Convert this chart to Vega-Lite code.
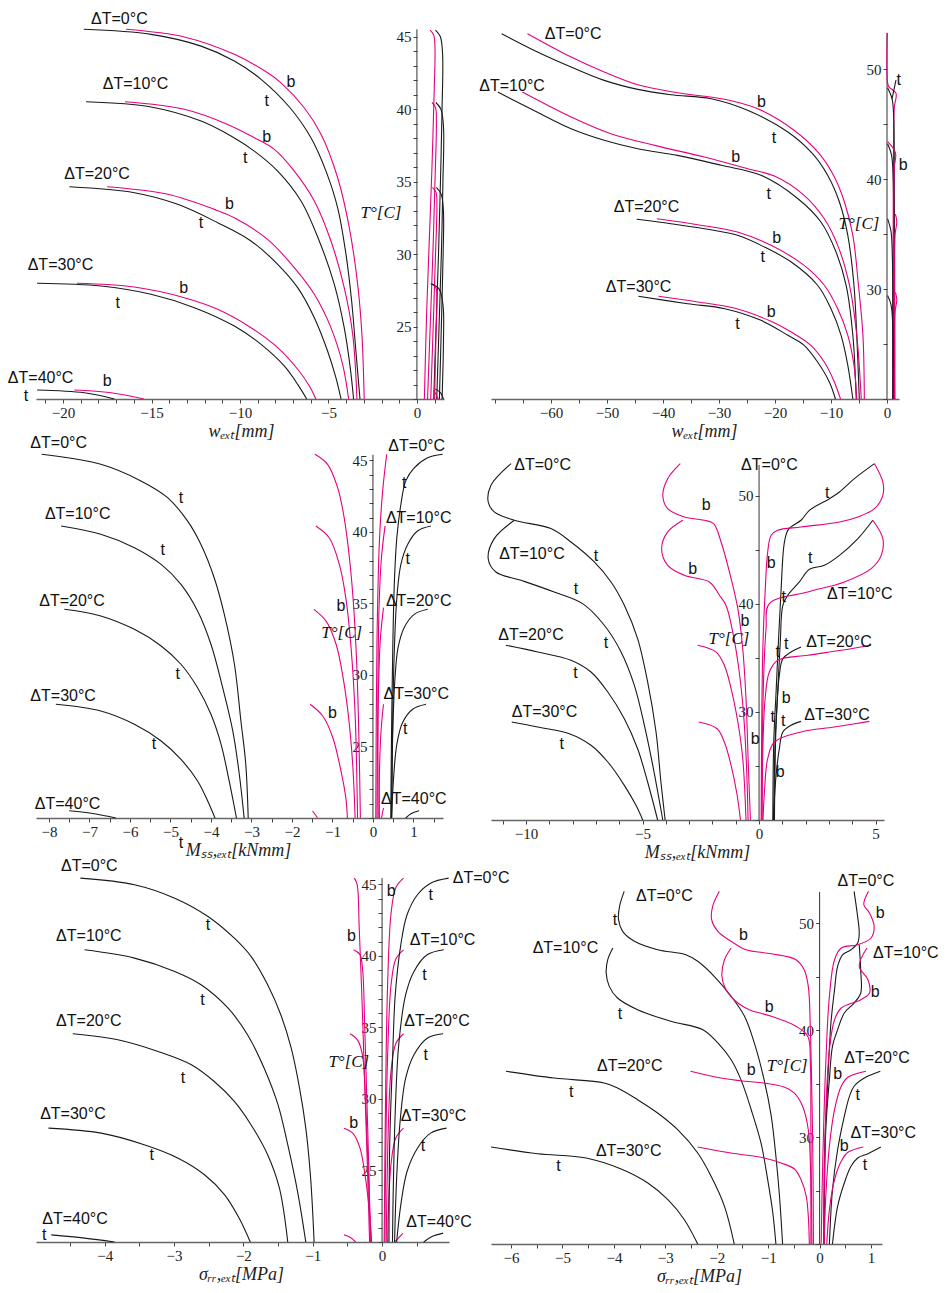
{
"$schema":"https://vega.github.io/schema/vega-lite/v6.json",
"background":"white",
"padding":{"left":7,"top":10,"right":5,"bottom":5},
"autosize":{"type":"pad"},
"columns":2,
"spacing":{"row":57,"column":42},
"bounds":"flush",
"config":{
 "view":{"stroke":null},
 "axis":{"grid":false,"labelFont":"Liberation Serif","labelFontSize":15,"labelColor":"#222","tickColor":"#444","domainColor":"#666","domainWidth":1.5,"tickSize":4,"labelOverlap":false,"labelFlush":false,"labelPadding":2,"format":"d","titleFont":"Liberation Serif","titleFontStyle":"italic","titleFontWeight":"normal","titleFontSize":18,"titleColor":"#222","titlePadding":2},
 "text":{"font":"Liberation Sans","fontSize":16,"color":"#111"}
},
"datasets":{
"p1":[
{"s":"0t","c":"t","x":-18.83,"y":45.5},{"s":"0t","c":"t","x":-15.03,"y":45.15},{"s":"0t","c":"t","x":-12.2,"y":44.34},{"s":"0t","c":"t","x":-10.32,"y":43.31},{"s":"0t","c":"t","x":-8.81,"y":42.05},{"s":"0t","c":"t","x":-7.21,"y":40.14},{"s":"0t","c":"t","x":-5.99,"y":38.02},{"s":"0t","c":"t","x":-5.14,"y":35.72},{"s":"0t","c":"t","x":-4.48,"y":33.19},{"s":"0t","c":"t","x":-4.01,"y":29.98},{"s":"0t","c":"t","x":-3.69,"y":26.76},{"s":"0t","c":"t","x":-3.45,"y":23.31},{"s":"0t","c":"t","x":-3.22,"y":20},
{"s":"0b","c":"b","x":-16.44,"y":45.5},{"s":"0b","c":"b","x":-13.15,"y":44.97},{"s":"0b","c":"b","x":-10.32,"y":43.77},{"s":"0b","c":"b","x":-8.44,"y":42.5},{"s":"0b","c":"b","x":-7.68,"y":41.81},{"s":"0b","c":"b","x":-6.37,"y":40.09},{"s":"0b","c":"b","x":-5.42,"y":38.26},{"s":"0b","c":"b","x":-4.48,"y":35.26},{"s":"0b","c":"b","x":-3.82,"y":31.81},{"s":"0b","c":"b","x":-3.35,"y":27.91},{"s":"0b","c":"b","x":-3.11,"y":24.46},{"s":"0b","c":"b","x":-2.98,"y":20},
{"s":"1t","c":"t","x":-18.7,"y":40.5},{"s":"1t","c":"t","x":-15.03,"y":40.14},{"s":"1t","c":"t","x":-12.2,"y":39.17},{"s":"1t","c":"t","x":-10.51,"y":38.14},{"s":"1t","c":"t","x":-9.19,"y":37.1},{"s":"1t","c":"t","x":-7.87,"y":35.72},{"s":"1t","c":"t","x":-6.55,"y":33.66},{"s":"1t","c":"t","x":-5.52,"y":30.9},{"s":"1t","c":"t","x":-4.67,"y":27.91},{"s":"1t","c":"t","x":-4.11,"y":24.92},{"s":"1t","c":"t","x":-3.77,"y":22.16},{"s":"1t","c":"t","x":-3.58,"y":20},
{"s":"1b","c":"b","x":-16.5,"y":40.5},{"s":"1b","c":"b","x":-13.15,"y":39.98},{"s":"1b","c":"b","x":-10.7,"y":38.94},{"s":"1b","c":"b","x":-9.19,"y":38.02},{"s":"1b","c":"b","x":-8.06,"y":37.22},{"s":"1b","c":"b","x":-6.93,"y":35.72},{"s":"1b","c":"b","x":-5.8,"y":33.66},{"s":"1b","c":"b","x":-4.86,"y":30.9},{"s":"1b","c":"b","x":-4.11,"y":27.68},{"s":"1b","c":"b","x":-3.63,"y":24.46},{"s":"1b","c":"b","x":-3.39,"y":20},
{"s":"2t","c":"t","x":-19.64,"y":34.64},{"s":"2t","c":"t","x":-15.97,"y":34.23},{"s":"2t","c":"t","x":-13.52,"y":33.43},{"s":"2t","c":"t","x":-11.26,"y":32.16},{"s":"2t","c":"t","x":-9.38,"y":30.9},{"s":"2t","c":"t","x":-7.87,"y":29.29},{"s":"2t","c":"t","x":-6.74,"y":27.68},{"s":"2t","c":"t","x":-5.8,"y":25.61},{"s":"2t","c":"t","x":-5.05,"y":23.31},{"s":"2t","c":"t","x":-4.58,"y":21.47},{"s":"2t","c":"t","x":-4.29,"y":20},
{"s":"2b","c":"b","x":-17.51,"y":34.64},{"s":"2b","c":"b","x":-14.08,"y":34.12},{"s":"2b","c":"b","x":-11.45,"y":33.08},{"s":"2b","c":"b","x":-10.32,"y":32.5},{"s":"2b","c":"b","x":-8.44,"y":31.01},{"s":"2b","c":"b","x":-6.93,"y":29.06},{"s":"2b","c":"b","x":-5.8,"y":27.22},{"s":"2b","c":"b","x":-4.86,"y":24.92},{"s":"2b","c":"b","x":-4.2,"y":22.39},{"s":"2b","c":"b","x":-3.86,"y":20},
{"s":"3t","c":"t","x":-21.47,"y":27.98},{"s":"3t","c":"t","x":-17.85,"y":27.79},{"s":"3t","c":"t","x":-15.03,"y":27.22},{"s":"3t","c":"t","x":-12.58,"y":26.3},{"s":"3t","c":"t","x":-10.32,"y":25.03},{"s":"3t","c":"t","x":-8.81,"y":23.77},{"s":"3t","c":"t","x":-7.5,"y":22.28},{"s":"3t","c":"t","x":-6.74,"y":21.01},{"s":"3t","c":"t","x":-6.23,"y":20},
{"s":"3b","c":"b","x":-19.21,"y":27.98},{"s":"3b","c":"b","x":-15.97,"y":27.72},{"s":"3b","c":"b","x":-13.15,"y":26.99},{"s":"3b","c":"b","x":-11.26,"y":26.19},{"s":"3b","c":"b","x":-9.38,"y":24.92},{"s":"3b","c":"b","x":-7.87,"y":23.54},{"s":"3b","c":"b","x":-6.74,"y":22.05},{"s":"3b","c":"b","x":-6.08,"y":20.9},{"s":"3b","c":"b","x":-5.71,"y":20},
{"s":"4t","c":"t","x":-21.47,"y":20.62},{"s":"4t","c":"t","x":-18.8,"y":20.43},{"s":"4t","c":"t","x":-17.1,"y":20},
{"s":"4b","c":"b","x":-19.36,"y":20.62},{"s":"4b","c":"b","x":-17.29,"y":20.43},{"s":"4b","c":"b","x":-15.44,"y":20},
{"s":"0bR","c":"b","x":0.75,"y":45.45},{"s":"0bR","c":"b","x":0.95,"y":45.1},{"s":"0bR","c":"b","x":1.02,"y":44.2},{"s":"0bR","c":"b","x":0.97,"y":41},{"s":"0bR","c":"b","x":0.85,"y":36},{"s":"0bR","c":"b","x":0.7,"y":31},{"s":"0bR","c":"b","x":0.55,"y":26},{"s":"0bR","c":"b","x":0.42,"y":20},
{"s":"0tR","c":"t","x":1.05,"y":45.45},{"s":"0tR","c":"t","x":1.32,"y":45.0},{"s":"0tR","c":"t","x":1.45,"y":43.8},{"s":"0tR","c":"t","x":1.42,"y":40},{"s":"0tR","c":"t","x":1.33,"y":35},{"s":"0tR","c":"t","x":1.22,"y":30},{"s":"0tR","c":"t","x":1.08,"y":25},{"s":"0tR","c":"t","x":0.95,"y":20},
{"s":"1bR","c":"b","x":0.85,"y":40.45},{"s":"1bR","c":"b","x":1.05,"y":40.1},{"s":"1bR","c":"b","x":1.1,"y":39.2},{"s":"1bR","c":"b","x":1.02,"y":35},{"s":"1bR","c":"b","x":0.9,"y":30},{"s":"1bR","c":"b","x":0.75,"y":25},{"s":"1bR","c":"b","x":0.6,"y":20},
{"s":"1tR","c":"t","x":1.07,"y":40.45},{"s":"1tR","c":"t","x":1.35,"y":40.0},{"s":"1tR","c":"t","x":1.5,"y":38.8},{"s":"1tR","c":"t","x":1.47,"y":35},{"s":"1tR","c":"t","x":1.38,"y":30},{"s":"1tR","c":"t","x":1.25,"y":25},{"s":"1tR","c":"t","x":1.12,"y":20},
{"s":"2bR","c":"b","x":0.88,"y":34.6},{"s":"2bR","c":"b","x":1.08,"y":34.25},{"s":"2bR","c":"b","x":1.13,"y":33.3},{"s":"2bR","c":"b","x":1.05,"y":30},{"s":"2bR","c":"b","x":0.92,"y":25},{"s":"2bR","c":"b","x":0.78,"y":20},
{"s":"2tR","c":"t","x":1.1,"y":34.6},{"s":"2tR","c":"t","x":1.38,"y":34.1},{"s":"2tR","c":"t","x":1.5,"y":32.9},{"s":"2tR","c":"t","x":1.48,"y":30},{"s":"2tR","c":"t","x":1.38,"y":25},{"s":"2tR","c":"t","x":1.27,"y":20},
{"s":"3bR","c":"b","x":0.86,"y":27.95},{"s":"3bR","c":"b","x":1.08,"y":27.65},{"s":"3bR","c":"b","x":1.13,"y":26.9},{"s":"3bR","c":"b","x":1.07,"y":24},{"s":"3bR","c":"b","x":1.0,"y":20},
{"s":"3tR","c":"t","x":0.78,"y":27.95},{"s":"3tR","c":"t","x":1.25,"y":27.6},{"s":"3tR","c":"t","x":1.48,"y":26.4},{"s":"3tR","c":"t","x":1.5,"y":24},{"s":"3tR","c":"t","x":1.42,"y":20},
{"s":"4bR","c":"b","x":0.92,"y":20.6},{"s":"4bR","c":"b","x":1.1,"y":20.3},{"s":"4bR","c":"b","x":1.2,"y":20},
{"s":"4tR","c":"t","x":1.05,"y":20.7},{"s":"4tR","c":"t","x":1.35,"y":20.4},{"s":"4tR","c":"t","x":1.5,"y":20}
],
"p1d":[{"x":-18.42,"y":46.24,"t":"ΔT=0°C"},{"x":-17.76,"y":41.76,"t":"ΔT=10°C"},{"x":-19.93,"y":35.5,"t":"ΔT=20°C"},{"x":-22.0,"y":29.24,"t":"ΔT=30°C"},{"x":-23.12,"y":21.47,"t":"ΔT=40°C"}],
"p1k":[{"x":-7.12,"y":41.88,"t":"b"},{"x":-8.49,"y":40.55,"t":"t"},{"x":-8.49,"y":38.07,"t":"b"},{"x":-9.7,"y":36.64,"t":"t"},{"x":-10.6,"y":33.43,"t":"b"},{"x":-12.2,"y":32.16,"t":"t"},{"x":-13.18,"y":27.63,"t":"b"},{"x":-16.91,"y":26.64,"t":"t"},{"x":-17.51,"y":21.24,"t":"b"},{"x":-22.09,"y":20.21,"t":"t"},{"x":-2.03,"y":32.83,"t":"T°[C]","f":"i"}],
"p2":[
{"s":"0t","c":"t","x":-68.8,"y":53.21},{"s":"0t","c":"t","x":-62.4,"y":51.55},{"s":"0t","c":"t","x":-56.4,"y":50.18},{"s":"0t","c":"t","x":-50.5,"y":48.97},{"s":"0t","c":"t","x":-44.5,"y":48.15},{"s":"0t","c":"t","x":-38.6,"y":47.66},{"s":"0t","c":"t","x":-31.4,"y":47.3},{"s":"0t","c":"t","x":-24.9,"y":46.25},{"s":"0t","c":"t","x":-17.7,"y":44.27},{"s":"0t","c":"t","x":-13.3,"y":42.3},{"s":"0t","c":"t","x":-10.6,"y":40.34},{"s":"0t","c":"t","x":-8.5,"y":37.91},{"s":"0t","c":"t","x":-7.0,"y":34.88},{"s":"0t","c":"t","x":-5.9,"y":30.34},{"s":"0t","c":"t","x":-5.4,"y":25.79},{"s":"0t","c":"t","x":-4.95,"y":20},
{"s":"0b","c":"b","x":-64.2,"y":53.21},{"s":"0b","c":"b","x":-56.4,"y":51.09},{"s":"0b","c":"b","x":-50.5,"y":49.73},{"s":"0b","c":"b","x":-44.5,"y":48.57},{"s":"0b","c":"b","x":-37.4,"y":47.85},{"s":"0b","c":"b","x":-29.0,"y":47.25},{"s":"0b","c":"b","x":-23.1,"y":46.39},{"s":"0b","c":"b","x":-16.6,"y":44.43},{"s":"0b","c":"b","x":-12.1,"y":42.3},{"s":"0b","c":"b","x":-9.4,"y":40.18},{"s":"0b","c":"b","x":-7.6,"y":37.91},{"s":"0b","c":"b","x":-6.1,"y":34.88},{"s":"0b","c":"b","x":-5.1,"y":30.34},{"s":"0b","c":"b","x":-4.3,"y":25.79},{"s":"0b","c":"b","x":-4.05,"y":20},
{"s":"1t","c":"t","x":-69.5,"y":47.91},{"s":"1t","c":"t","x":-62.5,"y":46.09},{"s":"1t","c":"t","x":-56.4,"y":44.57},{"s":"1t","c":"t","x":-50.5,"y":43.52},{"s":"1t","c":"t","x":-44.5,"y":42.75},{"s":"1t","c":"t","x":-37.4,"y":42.15},{"s":"1t","c":"t","x":-29.6,"y":41.25},{"s":"1t","c":"t","x":-22.5,"y":40.34},{"s":"1t","c":"t","x":-15.9,"y":38.21},{"s":"1t","c":"t","x":-11.8,"y":36.09},{"s":"1t","c":"t","x":-9.1,"y":33.36},{"s":"1t","c":"t","x":-7.3,"y":30.34},{"s":"1t","c":"t","x":-6.1,"y":25.79},{"s":"1t","c":"t","x":-5.5,"y":20},
{"s":"1b","c":"b","x":-65.1,"y":47.91},{"s":"1b","c":"b","x":-56.4,"y":45.64},{"s":"1b","c":"b","x":-49.3,"y":44.12},{"s":"1b","c":"b","x":-41.5,"y":43.06},{"s":"1b","c":"b","x":-32.6,"y":42.0},{"s":"1b","c":"b","x":-24.9,"y":40.94},{"s":"1b","c":"b","x":-20.1,"y":40.27},{"s":"1b","c":"b","x":-14.8,"y":38.52},{"s":"1b","c":"b","x":-11.2,"y":36.39},{"s":"1b","c":"b","x":-8.8,"y":33.97},{"s":"1b","c":"b","x":-6.7,"y":30.34},{"s":"1b","c":"b","x":-5.4,"y":25.79},{"s":"1b","c":"b","x":-4.6,"y":20},
{"s":"2t","c":"t","x":-44.7,"y":36.34},{"s":"2t","c":"t","x":-38.6,"y":35.94},{"s":"2t","c":"t","x":-32.6,"y":35.48},{"s":"2t","c":"t","x":-26.7,"y":34.88},{"s":"2t","c":"t","x":-21.9,"y":33.82},{"s":"2t","c":"t","x":-17.1,"y":32.45},{"s":"2t","c":"t","x":-12.4,"y":30.34},{"s":"2t","c":"t","x":-10.0,"y":28.21},{"s":"2t","c":"t","x":-8.2,"y":25.79},{"s":"2t","c":"t","x":-7.0,"y":23.06},{"s":"2t","c":"t","x":-6.1,"y":20},
{"s":"2b","c":"b","x":-41.1,"y":36.39},{"s":"2b","c":"b","x":-33.8,"y":35.85},{"s":"2b","c":"b","x":-26.7,"y":35.18},{"s":"2b","c":"b","x":-20.7,"y":33.97},{"s":"2b","c":"b","x":-14.8,"y":32.15},{"s":"2b","c":"b","x":-11.2,"y":30.34},{"s":"2b","c":"b","x":-8.8,"y":28.21},{"s":"2b","c":"b","x":-7.0,"y":25.79},{"s":"2b","c":"b","x":-5.9,"y":23.06},{"s":"2b","c":"b","x":-5.4,"y":20},
{"s":"3t","c":"t","x":-44.4,"y":29.34},{"s":"3t","c":"t","x":-35.6,"y":28.66},{"s":"3t","c":"t","x":-29.0,"y":28.21},{"s":"3t","c":"t","x":-22.5,"y":27.15},{"s":"3t","c":"t","x":-17.7,"y":25.79},{"s":"3t","c":"t","x":-14.8,"y":24.88},{"s":"3t","c":"t","x":-12.4,"y":23.36},{"s":"3t","c":"t","x":-10.3,"y":21.55},{"s":"3t","c":"t","x":-9.2,"y":20},
{"s":"3b","c":"b","x":-40.8,"y":29.34},{"s":"3b","c":"b","x":-33.8,"y":28.82},{"s":"3b","c":"b","x":-27.3,"y":28.27},{"s":"3b","c":"b","x":-20.7,"y":27.06},{"s":"3b","c":"b","x":-17.1,"y":26.09},{"s":"3b","c":"b","x":-13.6,"y":24.88},{"s":"3b","c":"b","x":-11.2,"y":23.36},{"s":"3b","c":"b","x":-9.4,"y":21.55},{"s":"3b","c":"b","x":-8.3,"y":20},
{"s":"0bR","c":"b","x":0.05,"y":53.3},{"s":"0bR","c":"b","x":0.05,"y":49.0},{"s":"0bR","c":"b","x":0.3,"y":48.4},{"s":"0bR","c":"b","x":1.6,"y":47.8},{"s":"0bR","c":"b","x":1.3,"y":46.5},{"s":"0bR","c":"b","x":1.15,"y":42},{"s":"0bR","c":"b","x":1.1,"y":35},{"s":"0bR","c":"b","x":1.05,"y":28},{"s":"0bR","c":"b","x":1.0,"y":20},
{"s":"0tR","c":"t","x":0.1,"y":48.3},{"s":"0tR","c":"t","x":0.9,"y":47.3},{"s":"0tR","c":"t","x":1.2,"y":45.5},{"s":"0tR","c":"t","x":1.3,"y":40},{"s":"0tR","c":"t","x":1.35,"y":30},{"s":"0tR","c":"t","x":1.4,"y":20},
{"s":"0tL","c":"t","x":0.9,"y":47.3},{"s":"0tL","c":"t","x":1.6,"y":49.0},
{"s":"1tR","c":"t","x":0.1,"y":43.2},{"s":"1tR","c":"t","x":0.8,"y":42.2},{"s":"1tR","c":"t","x":1.1,"y":40.0},{"s":"1tR","c":"t","x":1.2,"y":33},{"s":"1tR","c":"t","x":1.25,"y":20},
{"s":"1bR","c":"b","x":0.1,"y":43.4},{"s":"1bR","c":"b","x":1.5,"y":42.4},{"s":"1bR","c":"b","x":1.3,"y":41},{"s":"1bR","c":"b","x":1.2,"y":37},{"s":"1bR","c":"b","x":1.15,"y":30},{"s":"1bR","c":"b","x":1.1,"y":20},
{"s":"2tR","c":"t","x":0.1,"y":36.4},{"s":"2tR","c":"t","x":0.7,"y":35.3},{"s":"2tR","c":"t","x":0.95,"y":33},{"s":"2tR","c":"t","x":1.05,"y":26},{"s":"2tR","c":"t","x":1.1,"y":20},
{"s":"2bR","c":"b","x":1.5,"y":36.8},{"s":"2bR","c":"b","x":1.75,"y":36.1},{"s":"2bR","c":"b","x":1.45,"y":35.0},{"s":"2bR","c":"b","x":1.35,"y":30},{"s":"2bR","c":"b","x":1.3,"y":20},
{"s":"3tR","c":"t","x":0.1,"y":29.4},{"s":"3tR","c":"t","x":0.7,"y":28.6},{"s":"3tR","c":"t","x":1.0,"y":27.0},{"s":"3tR","c":"t","x":1.05,"y":20},
{"s":"3bR","c":"b","x":1.5,"y":29.7},{"s":"3bR","c":"b","x":1.75,"y":29.0},{"s":"3bR","c":"b","x":1.45,"y":28.0},{"s":"3bR","c":"b","x":1.35,"y":24},{"s":"3bR","c":"b","x":1.3,"y":20}
],
"p2d":[{"x":-61.1,"y":53.2,"t":"ΔT=0°C"},{"x":-72.8,"y":48.5,"t":"ΔT=10°C"},{"x":-48.8,"y":37.45,"t":"ΔT=20°C"},{"x":-50.2,"y":30.2,"t":"ΔT=30°C"}],
"p2k":[{"x":-22.4,"y":47.0,"t":"b"},{"x":-20.2,"y":43.7,"t":"t"},{"x":-27.0,"y":42.0,"t":"b"},{"x":-21.1,"y":38.66,"t":"t"},{"x":-19.7,"y":34.6,"t":"b"},{"x":-22.2,"y":32.9,"t":"t"},{"x":-20.7,"y":27.9,"t":"b"},{"x":-26.7,"y":26.85,"t":"t"},{"x":2.1,"y":48.97,"t":"t"},{"x":2.9,"y":41.3,"t":"b"},{"x":-5.0,"y":35.9,"t":"T°[C]","f":"i"}],
"p3":[
{"s":"0t","c":"t","x":-8.18,"y":45.43},{"s":"0t","c":"t","x":-6.72,"y":44.73},{"s":"0t","c":"t","x":-5.73,"y":43.57},{"s":"0t","c":"t","x":-5.07,"y":42.4},{"s":"0t","c":"t","x":-4.58,"y":40.77},{"s":"0t","c":"t","x":-4.25,"y":39.14},{"s":"0t","c":"t","x":-3.92,"y":36.8},{"s":"0t","c":"t","x":-3.67,"y":34.24},{"s":"0t","c":"t","x":-3.42,"y":30.75},{"s":"0t","c":"t","x":-3.26,"y":26.78},{"s":"0t","c":"t","x":-3.14,"y":23.76},{"s":"0t","c":"t","x":-3.08,"y":20},
{"s":"1t","c":"t","x":-7.7,"y":40.42},{"s":"1t","c":"t","x":-6.72,"y":39.84},{"s":"1t","c":"t","x":-5.89,"y":38.9},{"s":"1t","c":"t","x":-5.23,"y":37.73},{"s":"1t","c":"t","x":-4.74,"y":36.34},{"s":"1t","c":"t","x":-4.33,"y":34.48},{"s":"1t","c":"t","x":-4.0,"y":32.15},{"s":"1t","c":"t","x":-3.71,"y":29.11},{"s":"1t","c":"t","x":-3.46,"y":26.08},{"s":"1t","c":"t","x":-3.3,"y":23.06},{"s":"1t","c":"t","x":-3.18,"y":20},
{"s":"2t","c":"t","x":-7.62,"y":34.59},{"s":"2t","c":"t","x":-6.72,"y":34.13},{"s":"2t","c":"t","x":-5.89,"y":33.19},{"s":"2t","c":"t","x":-5.23,"y":32.03},{"s":"2t","c":"t","x":-4.74,"y":30.75},{"s":"2t","c":"t","x":-4.33,"y":29.11},{"s":"2t","c":"t","x":-4.0,"y":27.25},{"s":"2t","c":"t","x":-3.75,"y":25.15},{"s":"2t","c":"t","x":-3.55,"y":22.59},{"s":"2t","c":"t","x":-3.37,"y":20},
{"s":"3t","c":"t","x":-7.83,"y":27.95},{"s":"3t","c":"t","x":-6.72,"y":27.48},{"s":"3t","c":"t","x":-5.89,"y":26.55},{"s":"3t","c":"t","x":-5.23,"y":25.38},{"s":"3t","c":"t","x":-4.74,"y":24.1},{"s":"3t","c":"t","x":-4.33,"y":22.59},{"s":"3t","c":"t","x":-4.08,"y":21.19},{"s":"3t","c":"t","x":-3.9,"y":20},
{"s":"4t","c":"t","x":-7.5,"y":20.51},{"s":"4t","c":"t","x":-6.88,"y":20.3},{"s":"4t","c":"t","x":-6.35,"y":20},
{"s":"0b","c":"b","x":-1.43,"y":45.43},{"s":"0b","c":"b","x":-1.12,"y":44.73},{"s":"0b","c":"b","x":-0.87,"y":43.08},{"s":"0b","c":"b","x":-0.71,"y":40.99},{"s":"0b","c":"b","x":-0.58,"y":38.18},{"s":"0b","c":"b","x":-0.48,"y":34.94},{"s":"0b","c":"b","x":-0.4,"y":30.75},{"s":"0b","c":"b","x":-0.35,"y":26.08},{"s":"0b","c":"b","x":-0.31,"y":20},
{"s":"1b","c":"b","x":-1.41,"y":40.42},{"s":"1b","c":"b","x":-1.08,"y":39.59},{"s":"1b","c":"b","x":-0.83,"y":37.73},{"s":"1b","c":"b","x":-0.67,"y":35.39},{"s":"1b","c":"b","x":-0.54,"y":31.9},{"s":"1b","c":"b","x":-0.44,"y":27.25},{"s":"1b","c":"b","x":-0.38,"y":20},
{"s":"2b","c":"b","x":-1.46,"y":34.59},{"s":"2b","c":"b","x":-1.16,"y":33.78},{"s":"2b","c":"b","x":-0.91,"y":32.15},{"s":"2b","c":"b","x":-0.75,"y":30.03},{"s":"2b","c":"b","x":-0.61,"y":27.25},{"s":"2b","c":"b","x":-0.5,"y":23.76},{"s":"2b","c":"b","x":-0.44,"y":20},
{"s":"3b","c":"b","x":-1.55,"y":27.95},{"s":"3b","c":"b","x":-1.24,"y":27.13},{"s":"3b","c":"b","x":-0.99,"y":25.61},{"s":"3b","c":"b","x":-0.79,"y":23.29},{"s":"3b","c":"b","x":-0.67,"y":21.42},{"s":"3b","c":"b","x":-0.63,"y":20},
{"s":"4b","c":"b","x":-1.49,"y":20.49},{"s":"4b","c":"b","x":-1.37,"y":20.02},
{"s":"0bR","c":"b","x":0.34,"y":45.43},{"s":"0bR","c":"b","x":0.24,"y":42.87},{"s":"0bR","c":"b","x":0.16,"y":39.37},{"s":"0bR","c":"b","x":0.1,"y":32.38},{"s":"0bR","c":"b","x":0.07,"y":20},
{"s":"1bR","c":"b","x":0.3,"y":40.42},{"s":"1bR","c":"b","x":0.21,"y":38.2},{"s":"1bR","c":"b","x":0.15,"y":34.7},{"s":"1bR","c":"b","x":0.12,"y":27.7},{"s":"1bR","c":"b","x":0.1,"y":20},
{"s":"2bR","c":"b","x":0.26,"y":34.71},{"s":"2bR","c":"b","x":0.18,"y":32.38},{"s":"2bR","c":"b","x":0.13,"y":27.7},{"s":"2bR","c":"b","x":0.13,"y":20},
{"s":"3bR","c":"b","x":0.26,"y":27.95},{"s":"3bR","c":"b","x":0.2,"y":26.08},{"s":"3bR","c":"b","x":0.16,"y":23.06},{"s":"3bR","c":"b","x":0.16,"y":20},
{"s":"4bR","c":"b","x":0.26,"y":20.7},{"s":"4bR","c":"b","x":0.21,"y":20},
{"s":"0tR","c":"t","x":1.72,"y":45.43},{"s":"0tR","c":"t","x":1.35,"y":45.18},{"s":"0tR","c":"t","x":1.02,"y":44.48},{"s":"0tR","c":"t","x":0.81,"y":43.57},{"s":"0tR","c":"t","x":0.69,"y":41.92},{"s":"0tR","c":"t","x":0.59,"y":39.6},{"s":"0tR","c":"t","x":0.53,"y":36.57},{"s":"0tR","c":"t","x":0.49,"y":31.91},{"s":"0tR","c":"t","x":0.46,"y":26.08},{"s":"0tR","c":"t","x":0.44,"y":20},
{"s":"1tR","c":"t","x":1.43,"y":40.42},{"s":"1tR","c":"t","x":1.1,"y":40.07},{"s":"1tR","c":"t","x":0.86,"y":39.14},{"s":"1tR","c":"t","x":0.69,"y":37.73},{"s":"1tR","c":"t","x":0.59,"y":35.39},{"s":"1tR","c":"t","x":0.53,"y":31.91},{"s":"1tR","c":"t","x":0.49,"y":27.25},{"s":"1tR","c":"t","x":0.46,"y":20},
{"s":"2tR","c":"t","x":1.35,"y":34.59},{"s":"2tR","c":"t","x":1.02,"y":34.24},{"s":"2tR","c":"t","x":0.77,"y":33.31},{"s":"2tR","c":"t","x":0.62,"y":31.91},{"s":"2tR","c":"t","x":0.54,"y":29.58},{"s":"2tR","c":"t","x":0.49,"y":26.08},{"s":"2tR","c":"t","x":0.46,"y":20},
{"s":"3tR","c":"t","x":1.31,"y":27.95},{"s":"3tR","c":"t","x":0.98,"y":27.6},{"s":"3tR","c":"t","x":0.73,"y":26.66},{"s":"3tR","c":"t","x":0.59,"y":25.15},{"s":"3tR","c":"t","x":0.51,"y":22.81},{"s":"3tR","c":"t","x":0.46,"y":20},
{"s":"4tR","c":"t","x":1.14,"y":20.51},{"s":"4tR","c":"t","x":0.94,"y":20.3},{"s":"4tR","c":"t","x":0.81,"y":20}
],
"p3d":[{"x":-8.46,"y":46.19,"t":"ΔT=0°C"},{"x":-8.1,"y":41.26,"t":"ΔT=10°C"},{"x":-8.24,"y":35.17,"t":"ΔT=20°C"},{"x":-8.46,"y":28.53,"t":"ΔT=30°C"},{"x":-8.35,"y":20.98,"t":"ΔT=40°C"},{"x":0.38,"y":46.01,"t":"ΔT=0°C"},{"x":0.32,"y":40.98,"t":"ΔT=10°C"},{"x":0.32,"y":35.17,"t":"ΔT=20°C"},{"x":0.26,"y":28.67,"t":"ΔT=30°C"},{"x":0.2,"y":21.33,"t":"ΔT=40°C"}],
"p3k":[{"x":-4.74,"y":42.4,"t":"t"},{"x":-5.19,"y":38.72,"t":"t"},{"x":-4.82,"y":30.05,"t":"t"},{"x":-5.41,"y":25.15,"t":"t"},{"x":-4.74,"y":18.27,"t":"t"},{"x":0.77,"y":43.45,"t":"t"},{"x":0.86,"y":38.09,"t":"t"},{"x":0.8,"y":26.2,"t":"t"},{"x":-0.79,"y":34.83,"t":"b"},{"x":-1.0,"y":27.37,"t":"b"},{"x":-0.77,"y":32.94,"t":"T°[C]","f":"i"}],
"p4":[
{"s":"0t","c":"t","x":-10.64,"y":52.99},{"s":"0t","c":"t","x":-11.5,"y":50.99},{"s":"0t","c":"t","x":-11.62,"y":49.44},{"s":"0t","c":"t","x":-11.36,"y":48.52},{"s":"0t","c":"t","x":-10.5,"y":47.75},{"s":"0t","c":"t","x":-8.93,"y":46.98},{"s":"0t","c":"t","x":-8.07,"y":45.74},{"s":"0t","c":"t","x":-7.07,"y":43.89},{"s":"0t","c":"t","x":-6.35,"y":42.04},{"s":"0t","c":"t","x":-5.78,"y":39.88},{"s":"0t","c":"t","x":-5.21,"y":36.79},{"s":"0t","c":"t","x":-4.78,"y":32.78},{"s":"0t","c":"t","x":-4.42,"y":28.15},{"s":"0t","c":"t","x":-4.21,"y":23.52},{"s":"0t","c":"t","x":-4.03,"y":20},
{"s":"1t","c":"t","x":-10.5,"y":47.75},{"s":"1t","c":"t","x":-11.36,"y":46.05},{"s":"1t","c":"t","x":-11.62,"y":44.19},{"s":"1t","c":"t","x":-11.29,"y":42.96},{"s":"1t","c":"t","x":-10.21,"y":42.19},{"s":"1t","c":"t","x":-8.79,"y":41.11},{"s":"1t","c":"t","x":-7.57,"y":40.03},{"s":"1t","c":"t","x":-6.64,"y":38.03},{"s":"1t","c":"t","x":-5.92,"y":35.56},{"s":"1t","c":"t","x":-5.35,"y":32.47},{"s":"1t","c":"t","x":-4.92,"y":28.77},{"s":"1t","c":"t","x":-4.56,"y":25.06},{"s":"1t","c":"t","x":-4.13,"y":20},
{"s":"2t","c":"t","x":-10.86,"y":36.18},{"s":"2t","c":"t","x":-9.5,"y":35.56},{"s":"2t","c":"t","x":-8.07,"y":34.79},{"s":"2t","c":"t","x":-7.21,"y":33.7},{"s":"2t","c":"t","x":-6.49,"y":31.85},{"s":"2t","c":"t","x":-5.78,"y":29.38},{"s":"2t","c":"t","x":-5.21,"y":26.6},{"s":"2t","c":"t","x":-4.78,"y":23.52},{"s":"2t","c":"t","x":-4.35,"y":20},
{"s":"3t","c":"t","x":-10.61,"y":29.07},{"s":"3t","c":"t","x":-9.5,"y":28.61},{"s":"3t","c":"t","x":-8.14,"y":27.99},{"s":"3t","c":"t","x":-7.21,"y":26.92},{"s":"3t","c":"t","x":-6.49,"y":25.37},{"s":"3t","c":"t","x":-5.78,"y":23.21},{"s":"3t","c":"t","x":-5.28,"y":21.36},{"s":"3t","c":"t","x":-4.99,"y":20},
{"s":"0b","c":"b","x":-3.38,"y":52.99},{"s":"0b","c":"b","x":-3.92,"y":51.6},{"s":"0b","c":"b","x":-4.13,"y":50.06},{"s":"0b","c":"b","x":-3.92,"y":48.82},{"s":"0b","c":"b","x":-3.21,"y":48.06},{"s":"0b","c":"b","x":-2.35,"y":47.75},{"s":"0b","c":"b","x":-1.95,"y":47.44},{"s":"0b","c":"b","x":-1.63,"y":45.74},{"s":"0b","c":"b","x":-1.27,"y":42.96},{"s":"0b","c":"b","x":-0.91,"y":39.57},{"s":"0b","c":"b","x":-0.7,"y":35.86},{"s":"0b","c":"b","x":-0.56,"y":31.23},{"s":"0b","c":"b","x":-0.46,"y":25.06},{"s":"0b","c":"b","x":-0.37,"y":20},
{"s":"1b","c":"b","x":-3.27,"y":47.75},{"s":"1b","c":"b","x":-3.92,"y":46.67},{"s":"1b","c":"b","x":-4.18,"y":45.12},{"s":"1b","c":"b","x":-3.92,"y":43.58},{"s":"1b","c":"b","x":-3.21,"y":42.66},{"s":"1b","c":"b","x":-2.13,"y":42.04},{"s":"1b","c":"b","x":-1.7,"y":40.81},{"s":"1b","c":"b","x":-1.42,"y":39.88},{"s":"1b","c":"b","x":-1.13,"y":37.41},{"s":"1b","c":"b","x":-0.85,"y":33.7},{"s":"1b","c":"b","x":-0.66,"y":29.69},{"s":"1b","c":"b","x":-0.54,"y":25.06},{"s":"1b","c":"b","x":-0.47,"y":20},
{"s":"2b","c":"b","x":-2.63,"y":36.18},{"s":"2b","c":"b","x":-1.85,"y":35.56},{"s":"2b","c":"b","x":-1.49,"y":34.32},{"s":"2b","c":"b","x":-1.2,"y":32.16},{"s":"2b","c":"b","x":-0.91,"y":29.07},{"s":"2b","c":"b","x":-0.7,"y":25.68},{"s":"2b","c":"b","x":-0.56,"y":20},
{"s":"3b","c":"b","x":-2.59,"y":29.07},{"s":"3b","c":"b","x":-1.8,"y":28.45},{"s":"3b","c":"b","x":-1.49,"y":27.22},{"s":"3b","c":"b","x":-1.2,"y":25.06},{"s":"3b","c":"b","x":-0.94,"y":22.29},{"s":"3b","c":"b","x":-0.8,"y":20},
{"s":"0tR","c":"t","x":4.95,"y":52.99},{"s":"0tR","c":"t","x":4.09,"y":51.6},{"s":"0tR","c":"t","x":3.45,"y":50.37},{"s":"0tR","c":"t","x":3.02,"y":49.75},{"s":"0tR","c":"t","x":2.16,"y":48.67},{"s":"0tR","c":"t","x":1.8,"y":47.75},{"s":"0tR","c":"t","x":1.26,"y":46.91},{"s":"0tR","c":"t","x":1.09,"y":45.74},{"s":"0tR","c":"t","x":0.94,"y":41.11},{"s":"0tR","c":"t","x":0.83,"y":36.48},{"s":"0tR","c":"t","x":0.73,"y":31.85},{"s":"0tR","c":"t","x":0.63,"y":27.22},{"s":"0tR","c":"t","x":0.59,"y":20},
{"s":"0bR","c":"b","x":4.95,"y":52.99},{"s":"0bR","c":"b","x":5.31,"y":51.3},{"s":"0bR","c":"b","x":5.31,"y":50.06},{"s":"0bR","c":"b","x":4.95,"y":48.82},{"s":"0bR","c":"b","x":4.24,"y":48.06},{"s":"0bR","c":"b","x":3.45,"y":47.59},{"s":"0bR","c":"b","x":1.8,"y":47.13},{"s":"0bR","c":"b","x":0.8,"y":46.82},{"s":"0bR","c":"b","x":0.52,"y":46.36},{"s":"0bR","c":"b","x":0.37,"y":44.81},{"s":"0bR","c":"b","x":0.26,"y":41.11},{"s":"0bR","c":"b","x":0.17,"y":36.48},{"s":"0bR","c":"b","x":0.12,"y":30.31},{"s":"0bR","c":"b","x":0.09,"y":20},
{"s":"1tR","c":"t","x":4.88,"y":47.75},{"s":"1tR","c":"t","x":4.24,"y":46.05},{"s":"1tR","c":"t","x":3.45,"y":44.5},{"s":"1tR","c":"t","x":2.8,"y":43.58},{"s":"1tR","c":"t","x":2.16,"y":43.21},{"s":"1tR","c":"t","x":1.73,"y":42.04},{"s":"1tR","c":"t","x":1.23,"y":40.8},{"s":"1tR","c":"t","x":1.02,"y":39.88},{"s":"1tR","c":"t","x":0.91,"y":36.48},{"s":"1tR","c":"t","x":0.8,"y":31.85},{"s":"1tR","c":"t","x":0.69,"y":27.22},{"s":"1tR","c":"t","x":0.63,"y":20},
{"s":"1bR","c":"b","x":4.88,"y":47.75},{"s":"1bR","c":"b","x":5.31,"y":46.05},{"s":"1bR","c":"b","x":5.24,"y":44.5},{"s":"1bR","c":"b","x":4.81,"y":43.27},{"s":"1bR","c":"b","x":3.66,"y":42.04},{"s":"1bR","c":"b","x":2.09,"y":41.11},{"s":"1bR","c":"b","x":0.44,"y":40.03},{"s":"1bR","c":"b","x":0.3,"y":37.71},{"s":"1bR","c":"b","x":0.2,"y":33.4},{"s":"1bR","c":"b","x":0.14,"y":27.22},{"s":"1bR","c":"b","x":0.12,"y":20},
{"s":"2tR","c":"t","x":1.8,"y":36.02},{"s":"2tR","c":"t","x":1.37,"y":35.56},{"s":"2tR","c":"t","x":1.02,"y":34.94},{"s":"2tR","c":"t","x":0.87,"y":33.4},{"s":"2tR","c":"t","x":0.73,"y":28.77},{"s":"2tR","c":"t","x":0.66,"y":20},
{"s":"2bR","c":"b","x":4.81,"y":36.18},{"s":"2bR","c":"b","x":3.52,"y":35.71},{"s":"2bR","c":"b","x":2.09,"y":35.25},{"s":"2bR","c":"b","x":0.8,"y":34.79},{"s":"2bR","c":"b","x":0.44,"y":33.7},{"s":"2bR","c":"b","x":0.26,"y":31.23},{"s":"2bR","c":"b","x":0.17,"y":27.22},{"s":"2bR","c":"b","x":0.13,"y":20},
{"s":"3tR","c":"t","x":1.8,"y":29.13},{"s":"3tR","c":"t","x":1.37,"y":28.77},{"s":"3tR","c":"t","x":1.02,"y":28.15},{"s":"3tR","c":"t","x":0.87,"y":26.6},{"s":"3tR","c":"t","x":0.73,"y":24.14},{"s":"3tR","c":"t","x":0.61,"y":20},
{"s":"3bR","c":"b","x":4.73,"y":29.13},{"s":"3bR","c":"b","x":3.23,"y":28.61},{"s":"3bR","c":"b","x":1.8,"y":28.15},{"s":"3bR","c":"b","x":0.66,"y":27.22},{"s":"3bR","c":"b","x":0.37,"y":25.68},{"s":"3bR","c":"b","x":0.23,"y":22.59},{"s":"3bR","c":"b","x":0.17,"y":20}
],
"p4d":[{"x":-10.5,"y":52.87,"t":"ΔT=0°C"},{"x":-11.15,"y":44.63,"t":"ΔT=10°C"},{"x":-11.19,"y":37.13,"t":"ΔT=20°C"},{"x":-10.61,"y":30.0,"t":"ΔT=30°C"},{"x":-0.77,"y":52.87,"t":"ΔT=0°C"},{"x":2.92,"y":40.93,"t":"ΔT=10°C"},{"x":2.02,"y":36.48,"t":"ΔT=20°C"},{"x":1.94,"y":29.72,"t":"ΔT=30°C"}],
"p4k":[{"x":-7.0,"y":44.44,"t":"t"},{"x":-7.85,"y":41.42,"t":"t"},{"x":-6.57,"y":36.42,"t":"t"},{"x":-7.88,"y":33.64,"t":"t"},{"x":-8.47,"y":27.07,"t":"t"},{"x":2.92,"y":50.31,"t":"t"},{"x":2.2,"y":44.26,"t":"t"},{"x":1.06,"y":40.65,"t":"t"},{"x":1.16,"y":36.27,"t":"t"},{"x":0.8,"y":35.56,"t":"t"},{"x":0.59,"y":29.54,"t":"t"},{"x":1.04,"y":29.14,"t":"t"},{"x":-2.27,"y":49.2,"t":"b"},{"x":-2.85,"y":43.27,"t":"b"},{"x":-0.6,"y":38.4,"t":"b"},{"x":0.52,"y":43.8,"t":"b"},{"x":1.16,"y":31.33,"t":"b"},{"x":-0.17,"y":27.53,"t":"b"},{"x":0.91,"y":24.44,"t":"b"},{"x":-1.29,"y":36.76,"t":"T°[C]","f":"i"}],
"p5":[
{"s":"0t","c":"t","x":-4.35,"y":45.44},{"s":"0t","c":"t","x":-3.57,"y":44.98},{"s":"0t","c":"t","x":-2.99,"y":44.04},{"s":"0t","c":"t","x":-2.51,"y":42.76},{"s":"0t","c":"t","x":-2.13,"y":41.24},{"s":"0t","c":"t","x":-1.89,"y":39.97},{"s":"0t","c":"t","x":-1.65,"y":37.99},{"s":"0t","c":"t","x":-1.46,"y":35.89},{"s":"0t","c":"t","x":-1.31,"y":33.55},{"s":"0t","c":"t","x":-1.19,"y":30.76},{"s":"0t","c":"t","x":-1.1,"y":27.96},{"s":"0t","c":"t","x":-1.03,"y":24.46},{"s":"0t","c":"t","x":-0.98,"y":20},
{"s":"1t","c":"t","x":-4.29,"y":40.43},{"s":"1t","c":"t","x":-3.57,"y":39.85},{"s":"1t","c":"t","x":-2.99,"y":38.92},{"s":"1t","c":"t","x":-2.61,"y":37.99},{"s":"1t","c":"t","x":-2.22,"y":36.35},{"s":"1t","c":"t","x":-1.94,"y":34.49},{"s":"1t","c":"t","x":-1.7,"y":32.15},{"s":"1t","c":"t","x":-1.5,"y":29.59},{"s":"1t","c":"t","x":-1.36,"y":26.8},{"s":"1t","c":"t","x":-1.21,"y":23.3},{"s":"1t","c":"t","x":-1.1,"y":20},
{"s":"2t","c":"t","x":-4.46,"y":34.56},{"s":"2t","c":"t","x":-3.81,"y":34.14},{"s":"2t","c":"t","x":-3.23,"y":33.32},{"s":"2t","c":"t","x":-2.75,"y":32.39},{"s":"2t","c":"t","x":-2.42,"y":31.22},{"s":"2t","c":"t","x":-2.13,"y":29.83},{"s":"2t","c":"t","x":-1.89,"y":28.2},{"s":"2t","c":"t","x":-1.65,"y":26.1},{"s":"2t","c":"t","x":-1.48,"y":23.76},{"s":"2t","c":"t","x":-1.36,"y":20},
{"s":"3t","c":"t","x":-4.81,"y":27.96},{"s":"3t","c":"t","x":-4.05,"y":27.61},{"s":"3t","c":"t","x":-3.43,"y":26.8},{"s":"3t","c":"t","x":-2.94,"y":25.86},{"s":"3t","c":"t","x":-2.56,"y":24.7},{"s":"3t","c":"t","x":-2.27,"y":23.3},{"s":"3t","c":"t","x":-2.06,"y":21.66},{"s":"3t","c":"t","x":-1.9,"y":20},
{"s":"4t","c":"t","x":-4.77,"y":20.5},{"s":"4t","c":"t","x":-4.29,"y":20.27},{"s":"4t","c":"t","x":-3.86,"y":20},
{"s":"0b","c":"b","x":-0.4,"y":45.44},{"s":"0b","c":"b","x":-0.36,"y":45.0},{"s":"0b","c":"b","x":-0.33,"y":42},{"s":"0b","c":"b","x":-0.29,"y":37},{"s":"0b","c":"b","x":-0.25,"y":31},{"s":"0b","c":"b","x":-0.21,"y":25},{"s":"0b","c":"b","x":-0.18,"y":20},
{"s":"1b","c":"b","x":-0.41,"y":40.43},{"s":"1b","c":"b","x":-0.32,"y":40.1},{"s":"1b","c":"b","x":-0.28,"y":39.0},{"s":"1b","c":"b","x":-0.25,"y":35},{"s":"1b","c":"b","x":-0.22,"y":30},{"s":"1b","c":"b","x":-0.19,"y":25},{"s":"1b","c":"b","x":-0.17,"y":20},
{"s":"2b","c":"b","x":-0.46,"y":34.56},{"s":"2b","c":"b","x":-0.35,"y":34.1},{"s":"2b","c":"b","x":-0.28,"y":33.0},{"s":"2b","c":"b","x":-0.24,"y":30},{"s":"2b","c":"b","x":-0.2,"y":25},{"s":"2b","c":"b","x":-0.16,"y":20},
{"s":"3b","c":"b","x":-0.55,"y":27.96},{"s":"3b","c":"b","x":-0.42,"y":27.6},{"s":"3b","c":"b","x":-0.32,"y":26.6},{"s":"3b","c":"b","x":-0.24,"y":24.5},{"s":"3b","c":"b","x":-0.18,"y":22},{"s":"3b","c":"b","x":-0.15,"y":20},
{"s":"4b","c":"b","x":-0.55,"y":20.5},{"s":"4b","c":"b","x":-0.45,"y":20.3},{"s":"4b","c":"b","x":-0.38,"y":20},
{"s":"0bR","c":"b","x":0.31,"y":45.44},{"s":"0bR","c":"b","x":0.2,"y":44.8},{"s":"0bR","c":"b","x":0.13,"y":43},{"s":"0bR","c":"b","x":0.08,"y":38},{"s":"0bR","c":"b","x":0.05,"y":30},{"s":"0bR","c":"b","x":0.03,"y":20},
{"s":"1bR","c":"b","x":0.31,"y":40.43},{"s":"1bR","c":"b","x":0.2,"y":39.8},{"s":"1bR","c":"b","x":0.13,"y":38},{"s":"1bR","c":"b","x":0.08,"y":33},{"s":"1bR","c":"b","x":0.05,"y":25},{"s":"1bR","c":"b","x":0.04,"y":20},
{"s":"2bR","c":"b","x":0.31,"y":34.56},{"s":"2bR","c":"b","x":0.2,"y":33.9},{"s":"2bR","c":"b","x":0.13,"y":32},{"s":"2bR","c":"b","x":0.09,"y":28},{"s":"2bR","c":"b","x":0.06,"y":20},
{"s":"3bR","c":"b","x":0.31,"y":27.96},{"s":"3bR","c":"b","x":0.2,"y":27.3},{"s":"3bR","c":"b","x":0.13,"y":25.5},{"s":"3bR","c":"b","x":0.09,"y":22},{"s":"3bR","c":"b","x":0.08,"y":20},
{"s":"4bR","c":"b","x":0.3,"y":20.6},{"s":"4bR","c":"b","x":0.22,"y":20.2},{"s":"4bR","c":"b","x":0.18,"y":20},
{"s":"0tR","c":"t","x":0.96,"y":45.44},{"s":"0tR","c":"t","x":0.7,"y":45.09},{"s":"0tR","c":"t","x":0.51,"y":44.28},{"s":"0tR","c":"t","x":0.36,"y":42.88},{"s":"0tR","c":"t","x":0.27,"y":40.78},{"s":"0tR","c":"t","x":0.19,"y":37.29},{"s":"0tR","c":"t","x":0.15,"y":32.62},{"s":"0tR","c":"t","x":0.11,"y":26.8},{"s":"0tR","c":"t","x":0.1,"y":20},
{"s":"1tR","c":"t","x":0.89,"y":40.43},{"s":"1tR","c":"t","x":0.65,"y":40.08},{"s":"1tR","c":"t","x":0.46,"y":38.92},{"s":"1tR","c":"t","x":0.34,"y":37.29},{"s":"1tR","c":"t","x":0.24,"y":33.79},{"s":"1tR","c":"t","x":0.19,"y":29.13},{"s":"1tR","c":"t","x":0.16,"y":23.3},{"s":"1tR","c":"t","x":0.15,"y":20},
{"s":"2tR","c":"t","x":0.88,"y":34.56},{"s":"2tR","c":"t","x":0.65,"y":34.25},{"s":"2tR","c":"t","x":0.46,"y":33.09},{"s":"2tR","c":"t","x":0.34,"y":31.45},{"s":"2tR","c":"t","x":0.26,"y":28.43},{"s":"2tR","c":"t","x":0.21,"y":24.46},{"s":"2tR","c":"t","x":0.18,"y":20},
{"s":"3tR","c":"t","x":0.93,"y":27.96},{"s":"3tR","c":"t","x":0.7,"y":27.61},{"s":"3tR","c":"t","x":0.51,"y":26.56},{"s":"3tR","c":"t","x":0.36,"y":24.93},{"s":"3tR","c":"t","x":0.27,"y":22.6},{"s":"3tR","c":"t","x":0.21,"y":20},
{"s":"4tR","c":"t","x":0.88,"y":20.62},{"s":"4tR","c":"t","x":0.72,"y":20.38},{"s":"4tR","c":"t","x":0.6,"y":20}
],
"p5d":[{"x":-4.63,"y":46.26,"t":"ΔT=0°C"},{"x":-4.7,"y":41.36,"t":"ΔT=10°C"},{"x":-4.7,"y":35.42,"t":"ΔT=20°C"},{"x":-4.93,"y":28.92,"t":"ΔT=30°C"},{"x":-4.9,"y":21.62,"t":"ΔT=40°C"},{"x":1.02,"y":45.42,"t":"ΔT=0°C"},{"x":0.4,"y":41.15,"t":"ΔT=10°C"},{"x":0.32,"y":35.42,"t":"ΔT=20°C"},{"x":0.27,"y":28.78,"t":"ΔT=30°C"},{"x":0.35,"y":21.43,"t":"ΔT=40°C"}],
"p5k":[{"x":-2.51,"y":42.18,"t":"t"},{"x":-2.59,"y":36.94,"t":"t"},{"x":-2.87,"y":31.5,"t":"t"},{"x":-3.32,"y":26.1,"t":"t"},{"x":-4.87,"y":20.5,"t":"t"},{"x":0.7,"y":44.28,"t":"t"},{"x":0.61,"y":38.69,"t":"t"},{"x":0.63,"y":33.09,"t":"t"},{"x":0.59,"y":26.68,"t":"t"},{"x":0.13,"y":44.51,"t":"b"},{"x":-0.44,"y":41.36,"t":"b"},{"x":-0.41,"y":28.31,"t":"b"},{"x":-0.48,"y":32.62,"t":"T°[C]","f":"i"}],
"p6":[
{"s":"0t","c":"t","x":-3.8,"y":52.96},{"s":"0t","c":"t","x":-3.89,"y":51.56},{"s":"0t","c":"t","x":-3.91,"y":50.31},{"s":"0t","c":"t","x":-3.83,"y":49.22},{"s":"0t","c":"t","x":-3.6,"y":48.29},{"s":"0t","c":"t","x":-3.15,"y":47.5},{"s":"0t","c":"t","x":-2.6,"y":47.04},{"s":"0t","c":"t","x":-2.37,"y":46.42},{"s":"0t","c":"t","x":-2.05,"y":45.02},{"s":"0t","c":"t","x":-1.72,"y":43.15},{"s":"0t","c":"t","x":-1.46,"y":41.28},{"s":"0t","c":"t","x":-1.27,"y":38.79},{"s":"0t","c":"t","x":-1.08,"y":35.36},{"s":"0t","c":"t","x":-0.94,"y":31.93},{"s":"0t","c":"t","x":-0.85,"y":28.2},{"s":"0t","c":"t","x":-0.78,"y":24.46},{"s":"0t","c":"t","x":-0.72,"y":20},
{"s":"1t","c":"t","x":-4.02,"y":47.66},{"s":"1t","c":"t","x":-4.12,"y":46.57},{"s":"1t","c":"t","x":-4.15,"y":45.33},{"s":"1t","c":"t","x":-4.09,"y":44.08},{"s":"1t","c":"t","x":-3.93,"y":42.99},{"s":"1t","c":"t","x":-3.54,"y":41.9},{"s":"1t","c":"t","x":-2.89,"y":40.81},{"s":"1t","c":"t","x":-2.27,"y":40.03},{"s":"1t","c":"t","x":-1.98,"y":38.79},{"s":"1t","c":"t","x":-1.72,"y":37.22},{"s":"1t","c":"t","x":-1.53,"y":35.36},{"s":"1t","c":"t","x":-1.33,"y":32.55},{"s":"1t","c":"t","x":-1.14,"y":29.44},{"s":"1t","c":"t","x":-1.01,"y":26.01},{"s":"1t","c":"t","x":-0.91,"y":22.9},{"s":"1t","c":"t","x":-0.85,"y":20},
{"s":"2t","c":"t","x":-6.1,"y":36.14},{"s":"2t","c":"t","x":-5.16,"y":35.51},{"s":"2t","c":"t","x":-4.19,"y":35.05},{"s":"2t","c":"t","x":-3.93,"y":34.58},{"s":"2t","c":"t","x":-3.54,"y":33.49},{"s":"2t","c":"t","x":-3.15,"y":32.24},{"s":"2t","c":"t","x":-2.76,"y":30.68},{"s":"2t","c":"t","x":-2.37,"y":28.5},{"s":"2t","c":"t","x":-2.11,"y":26.33},{"s":"2t","c":"t","x":-1.85,"y":23.52},{"s":"2t","c":"t","x":-1.66,"y":20},
{"s":"3t","c":"t","x":-6.39,"y":29.07},{"s":"3t","c":"t","x":-5.48,"y":28.44},{"s":"3t","c":"t","x":-4.54,"y":28.04},{"s":"3t","c":"t","x":-3.86,"y":27.01},{"s":"3t","c":"t","x":-3.34,"y":25.7},{"s":"3t","c":"t","x":-2.95,"y":24.14},{"s":"3t","c":"t","x":-2.63,"y":22.27},{"s":"3t","c":"t","x":-2.37,"y":20},
{"s":"0b","c":"b","x":-1.95,"y":52.96},{"s":"0b","c":"b","x":-2.08,"y":51.56},{"s":"0b","c":"b","x":-2.1,"y":50.31},{"s":"0b","c":"b","x":-1.98,"y":49.22},{"s":"0b","c":"b","x":-1.72,"y":48.29},{"s":"0b","c":"b","x":-1.43,"y":47.5},{"s":"0b","c":"b","x":-0.94,"y":47.13},{"s":"0b","c":"b","x":-0.46,"y":46.57},{"s":"0b","c":"b","x":-0.3,"y":45.64},{"s":"0b","c":"b","x":-0.22,"y":44.08},{"s":"0b","c":"b","x":-0.18,"y":40.03},{"s":"0b","c":"b","x":-0.15,"y":33.8},{"s":"0b","c":"b","x":-0.13,"y":27.57},{"s":"0b","c":"b","x":-0.12,"y":20},
{"s":"1b","c":"b","x":-1.72,"y":47.66},{"s":"1b","c":"b","x":-1.85,"y":46.57},{"s":"1b","c":"b","x":-1.9,"y":45.02},{"s":"1b","c":"b","x":-1.82,"y":43.77},{"s":"1b","c":"b","x":-1.59,"y":42.52},{"s":"1b","c":"b","x":-1.37,"y":41.9},{"s":"1b","c":"b","x":-0.94,"y":41.28},{"s":"1b","c":"b","x":-0.46,"y":40.35},{"s":"1b","c":"b","x":-0.23,"y":39.41},{"s":"1b","c":"b","x":-0.18,"y":36.92},{"s":"1b","c":"b","x":-0.17,"y":30.68},{"s":"1b","c":"b","x":-0.15,"y":20},
{"s":"2b","c":"b","x":-2.51,"y":36.14},{"s":"2b","c":"b","x":-1.92,"y":35.51},{"s":"2b","c":"b","x":-1.46,"y":35.21},{"s":"2b","c":"b","x":-1.08,"y":35.05},{"s":"2b","c":"b","x":-0.69,"y":34.67},{"s":"2b","c":"b","x":-0.49,"y":34.11},{"s":"2b","c":"b","x":-0.33,"y":32.87},{"s":"2b","c":"b","x":-0.22,"y":30.68},{"s":"2b","c":"b","x":-0.18,"y":27.57},{"s":"2b","c":"b","x":-0.17,"y":20},
{"s":"3b","c":"b","x":-2.37,"y":29.07},{"s":"3b","c":"b","x":-1.72,"y":28.5},{"s":"3b","c":"b","x":-1.08,"y":28.04},{"s":"3b","c":"b","x":-0.75,"y":27.57},{"s":"3b","c":"b","x":-0.49,"y":27.01},{"s":"3b","c":"b","x":-0.36,"y":26.01},{"s":"3b","c":"b","x":-0.26,"y":24.46},{"s":"3b","c":"b","x":-0.22,"y":22.59},{"s":"3b","c":"b","x":-0.2,"y":20},
{"s":"0tR","c":"t","x":0.67,"y":52.96},{"s":"0tR","c":"t","x":0.73,"y":50.93},{"s":"0tR","c":"t","x":0.77,"y":49.07},{"s":"0tR","c":"t","x":0.74,"y":48.13},{"s":"0tR","c":"t","x":0.61,"y":47.5},{"s":"0tR","c":"t","x":0.45,"y":47.04},{"s":"0tR","c":"t","x":0.35,"y":45.95},{"s":"0tR","c":"t","x":0.29,"y":43.77},{"s":"0tR","c":"t","x":0.22,"y":40.65},{"s":"0tR","c":"t","x":0.16,"y":35.36},{"s":"0tR","c":"t","x":0.1,"y":29.13},{"s":"0tR","c":"t","x":0.08,"y":20},
{"s":"1tR","c":"t","x":0.77,"y":47.97},{"s":"1tR","c":"t","x":0.8,"y":45.5},{"s":"1tR","c":"t","x":0.8,"y":43.46},{"s":"1tR","c":"t","x":0.67,"y":42.52},{"s":"1tR","c":"t","x":0.48,"y":41.59},{"s":"1tR","c":"t","x":0.35,"y":40.03},{"s":"1tR","c":"t","x":0.25,"y":38.48},{"s":"1tR","c":"t","x":0.19,"y":35.36},{"s":"1tR","c":"t","x":0.12,"y":30.68},{"s":"1tR","c":"t","x":0.09,"y":20},
{"s":"2tR","c":"t","x":1.18,"y":36.14},{"s":"2tR","c":"t","x":0.87,"y":35.51},{"s":"2tR","c":"t","x":0.67,"y":34.74},{"s":"2tR","c":"t","x":0.58,"y":33.8},{"s":"2tR","c":"t","x":0.48,"y":31.93},{"s":"2tR","c":"t","x":0.35,"y":28.81},{"s":"2tR","c":"t","x":0.25,"y":25.07},{"s":"2tR","c":"t","x":0.19,"y":20},
{"s":"3tR","c":"t","x":1.19,"y":29.07},{"s":"3tR","c":"t","x":0.94,"y":28.44},{"s":"3tR","c":"t","x":0.74,"y":28.04},{"s":"3tR","c":"t","x":0.61,"y":27.26},{"s":"3tR","c":"t","x":0.48,"y":25.7},{"s":"3tR","c":"t","x":0.35,"y":23.52},{"s":"3tR","c":"t","x":0.25,"y":20},
{"s":"0bR","c":"b","x":0.95,"y":52.96},{"s":"0bR","c":"b","x":0.86,"y":51.71},{"s":"0bR","c":"b","x":0.97,"y":50.93},{"s":"0bR","c":"b","x":1.06,"y":49.69},{"s":"0bR","c":"b","x":1.0,"y":48.6},{"s":"0bR","c":"b","x":0.74,"y":47.97},{"s":"0bR","c":"b","x":0.42,"y":47.66},{"s":"0bR","c":"b","x":0.29,"y":46.57},{"s":"0bR","c":"b","x":0.19,"y":43.15},{"s":"0bR","c":"b","x":0.12,"y":36.92},{"s":"0bR","c":"b","x":0.06,"y":27.57},{"s":"0bR","c":"b","x":0.03,"y":20},
{"s":"1bR","c":"b","x":0.92,"y":47.66},{"s":"1bR","c":"b","x":0.77,"y":45.95},{"s":"1bR","c":"b","x":0.94,"y":44.7},{"s":"1bR","c":"b","x":0.97,"y":43.46},{"s":"1bR","c":"b","x":0.8,"y":42.83},{"s":"1bR","c":"b","x":0.42,"y":42.06},{"s":"1bR","c":"b","x":0.29,"y":40.96},{"s":"1bR","c":"b","x":0.19,"y":38.16},{"s":"1bR","c":"b","x":0.12,"y":32.24},{"s":"1bR","c":"b","x":0.08,"y":20},
{"s":"2bR","c":"b","x":0.9,"y":36.14},{"s":"2bR","c":"b","x":0.55,"y":35.58},{"s":"2bR","c":"b","x":0.42,"y":34.74},{"s":"2bR","c":"b","x":0.29,"y":32.55},{"s":"2bR","c":"b","x":0.19,"y":29.13},{"s":"2bR","c":"b","x":0.12,"y":24.46},{"s":"2bR","c":"b","x":0.09,"y":20},
{"s":"3bR","c":"b","x":0.85,"y":29.07},{"s":"3bR","c":"b","x":0.55,"y":28.57},{"s":"3bR","c":"b","x":0.42,"y":27.73},{"s":"3bR","c":"b","x":0.29,"y":26.01},{"s":"3bR","c":"b","x":0.19,"y":23.21},{"s":"3bR","c":"b","x":0.14,"y":20}
],
"p6d":[{"x":-3.57,"y":52.52,"t":"ΔT=0°C"},{"x":-5.58,"y":47.66,"t":"ΔT=10°C"},{"x":-4.33,"y":36.64,"t":"ΔT=20°C"},{"x":-4.35,"y":28.69,"t":"ΔT=30°C"},{"x":0.35,"y":53.93,"t":"ΔT=0°C"},{"x":1.04,"y":47.2,"t":"ΔT=10°C"},{"x":0.48,"y":37.38,"t":"ΔT=20°C"},{"x":0.6,"y":30.37,"t":"ΔT=30°C"}],
"p6k":[{"x":-3.98,"y":50.25,"t":"t"},{"x":-3.88,"y":41.52,"t":"t"},{"x":-4.83,"y":34.18,"t":"t"},{"x":-5.08,"y":27.32,"t":"t"},{"x":0.74,"y":33.95,"t":"t"},{"x":0.88,"y":27.41,"t":"t"},{"x":-1.48,"y":48.91,"t":"b"},{"x":-0.98,"y":42.15,"t":"b"},{"x":-1.33,"y":36.23,"t":"b"},{"x":1.18,"y":50.93,"t":"b"},{"x":1.08,"y":43.52,"t":"b"},{"x":0.35,"y":35.92,"t":"b"},{"x":0.48,"y":29.19,"t":"b"},{"x":-0.63,"y":36.64,"t":"T°[C]","f":"i"}]
},
"concat":[
{"width":408,"height":370,
 "encoding":{
  "x":{"field":"x","type":"quantitative","scale":{"domain":[-21.53,1.53],"nice":false,"zero":false},"axis":{"title":"wₑₓₜ[mm]","titleX":205,"values":[-21,-20,-19,-18,-17,-16,-15,-14,-13,-12,-11,-10,-9,-8,-7,-6,-5,-4,-3,-2,-1,0,1],"labelExpr":"datum.value % 5 === 0 ? datum.label : ''"}},
  "y":{"field":"y","type":"quantitative","scale":{"domain":[20,45.52],"nice":false,"zero":false},"axis":{"title":null,"offset":-381,"domain":false,"values":[20,21,22,23,24,25,26,27,28,29,30,31,32,33,34,35,36,37,38,39,40,41,42,43,44,45],"labelExpr":"datum.value % 5 === 0 && datum.value > 20 ? datum.label : ''"}}},
 "layer":[
  {"data":{"values":[{"x":0,"y":20,"y2":45.5}]},"mark":{"type":"rule","color":"#333","strokeWidth":1},"encoding":{"y2":{"field":"y2"}}},
  {"data":{"name":"p1"},"mark":{"type":"line","interpolate":"catmull-rom","strokeWidth":1.1},"encoding":{"detail":{"field":"s"},"color":{"field":"c","type":"nominal","scale":{"domain":["t","b"],"range":["#1a1a1a","#e5007e"]},"legend":null},"order":{"value":null}}},
  {"data":{"name":"p1d"},"mark":{"type":"text","align":"left","baseline":"middle"},"encoding":{"text":{"field":"t"}}},
  {"data":{"name":"p1k"},"transform":[{"filter":"datum.f !== 'i'"}],"mark":{"type":"text","align":"center","baseline":"middle"},"encoding":{"text":{"field":"t"}}},
  {"data":{"name":"p1k"},"transform":[{"filter":"datum.f === 'i'"}],"mark":{"type":"text","align":"center","baseline":"middle","font":"Liberation Serif","fontStyle":"italic","fontSize":17},"encoding":{"text":{"field":"t"}}}
 ]},
{"width":408,"height":370,
 "encoding":{
  "x":{"field":"x","type":"quantitative","scale":{"domain":[-70.71,2.14],"nice":false,"zero":false},"axis":{"title":"wₑₓₜ[mm]","titleX":213,"values":[-70,-65,-60,-55,-50,-45,-40,-35,-30,-25,-20,-15,-10,-5,0],"labelExpr":"datum.value % 10 === 0 && datum.value > -70 ? datum.label : ''"}},
  "y":{"field":"y","type":"quantitative","scale":{"domain":[20,53.64],"nice":false,"zero":false},"axis":{"title":null,"offset":-396,"domain":false,"values":[20,25,30,35,40,45,50],"labelExpr":"datum.value % 10 === 0 && datum.value > 20 ? datum.label : ''"}}},
 "layer":[
  {"data":{"values":[{"x":0,"y":20,"y2":53.27}]},"mark":{"type":"rule","color":"#333","strokeWidth":1},"encoding":{"y2":{"field":"y2"}}},
  {"data":{"name":"p2"},"mark":{"type":"line","interpolate":"catmull-rom","strokeWidth":1.1},"encoding":{"detail":{"field":"s"},"color":{"field":"c","type":"nominal","scale":{"domain":["t","b"],"range":["#1a1a1a","#e5007e"]},"legend":null},"order":{"value":null}}},
  {"data":{"name":"p2d"},"mark":{"type":"text","align":"left","baseline":"middle"},"encoding":{"text":{"field":"t"}}},
  {"data":{"name":"p2k"},"transform":[{"filter":"datum.f !== 'i'"}],"mark":{"type":"text","align":"center","baseline":"middle"},"encoding":{"text":{"field":"t"}}},
  {"data":{"name":"p2k"},"transform":[{"filter":"datum.f === 'i'"}],"mark":{"type":"text","align":"center","baseline":"middle","font":"Liberation Serif","fontStyle":"italic","fontSize":17},"encoding":{"text":{"field":"t"}}}
 ]},
{"width":407,"height":362,
 "encoding":{
  "x":{"field":"x","type":"quantitative","scale":{"domain":[-8.32,1.73],"nice":false,"zero":false},"axis":{"title":"Mₛₛ,ₑₓₜ[kNmm]","titleX":202,"values":[-8,-7.5,-7,-6.5,-6,-5.5,-5,-4.5,-4,-3.5,-3,-2.5,-2,-1.5,-1,-0.5,0,0.5,1,1.5],"labelExpr":"datum.value % 1 === 0 ? datum.label : ''"}},
  "y":{"field":"y","type":"quantitative","scale":{"domain":[20,45.31],"nice":false,"zero":false},"axis":{"title":null,"offset":-337,"domain":false,"values":[20,21,22,23,24,25,26,27,28,29,30,31,32,33,34,35,36,37,38,39,40,41,42,43,44,45],"labelExpr":"datum.value % 5 === 0 && datum.value > 20 ? datum.label : ''"}}},
 "layer":[
  {"data":{"values":[{"x":0,"y":20,"y2":45.4}]},"mark":{"type":"rule","color":"#333","strokeWidth":1},"encoding":{"y2":{"field":"y2"}}},
  {"data":{"name":"p3"},"mark":{"type":"line","interpolate":"catmull-rom","strokeWidth":1.1},"encoding":{"detail":{"field":"s"},"color":{"field":"c","type":"nominal","scale":{"domain":["t","b"],"range":["#1a1a1a","#e5007e"]},"legend":null},"order":{"value":null}}},
  {"data":{"name":"p3d"},"mark":{"type":"text","align":"left","baseline":"middle"},"encoding":{"text":{"field":"t"}}},
  {"data":{"name":"p3k"},"transform":[{"filter":"datum.f !== 'i'"}],"mark":{"type":"text","align":"center","baseline":"middle"},"encoding":{"text":{"field":"t"}}},
  {"data":{"name":"p3k"},"transform":[{"filter":"datum.f === 'i'"}],"mark":{"type":"text","align":"center","baseline":"middle","font":"Liberation Serif","fontStyle":"italic","fontSize":17},"encoding":{"text":{"field":"t"}}}
 ]},
{"width":393,"height":364,
 "encoding":{
  "x":{"field":"x","type":"quantitative","scale":{"domain":[-11.5,5.36],"nice":false,"zero":false},"axis":{"title":"Mₛₛ,ₑₓₜ[kNmm]","titleX":206,"values":[-11,-10,-9,-8,-7,-6,-5,-4,-3,-2,-1,0,1,2,3,4,5],"labelExpr":"datum.value % 5 === 0 ? datum.label : ''"}},
  "y":{"field":"y","type":"quantitative","scale":{"domain":[20,53.7],"nice":false,"zero":false},"axis":{"title":null,"offset":-268,"domain":false,"values":[20,25,30,35,40,45,50],"labelExpr":"datum.value % 10 === 0 && datum.value > 20 ? datum.label : ''"}}},
 "layer":[
  {"data":{"values":[{"x":0,"y":20,"y2":52.87}]},"mark":{"type":"rule","color":"#333","strokeWidth":1},"encoding":{"y2":{"field":"y2"}}},
  {"data":{"name":"p4"},"mark":{"type":"line","interpolate":"catmull-rom","strokeWidth":1.1},"encoding":{"detail":{"field":"s"},"color":{"field":"c","type":"nominal","scale":{"domain":["t","b"],"range":["#1a1a1a","#e5007e"]},"legend":null},"order":{"value":null}}},
  {"data":{"name":"p4d"},"mark":{"type":"text","align":"left","baseline":"middle"},"encoding":{"text":{"field":"t"}}},
  {"data":{"name":"p4k"},"transform":[{"filter":"datum.f !== 'i'"}],"mark":{"type":"text","align":"center","baseline":"middle"},"encoding":{"text":{"field":"t"}}},
  {"data":{"name":"p4k"},"transform":[{"filter":"datum.f === 'i'"}],"mark":{"type":"text","align":"center","baseline":"middle","font":"Liberation Serif","fontStyle":"italic","fontSize":17},"encoding":{"text":{"field":"t"}}}
 ]},
{"width":413,"height":365,
 "encoding":{
  "x":{"field":"x","type":"quantitative","scale":{"domain":[-4.99,0.965],"nice":false,"zero":false},"axis":{"title":"σᵣᵣ,ₑₓₜ[MPa]","titleX":205,"values":[-4.5,-4,-3.5,-3,-2.5,-2,-1.5,-1,-0.5,0,0.5],"labelExpr":"datum.value % 1 === 0 ? datum.label : ''"}},
  "y":{"field":"y","type":"quantitative","scale":{"domain":[20,45.52],"nice":false,"zero":false},"axis":{"title":null,"offset":-346,"domain":false,"values":[20,21,22,23,24,25,26,27,28,29,30,31,32,33,34,35,36,37,38,39,40,41,42,43,44,45],"labelExpr":"datum.value % 5 === 0 && datum.value > 20 ? datum.label : ''"}}},
 "layer":[
  {"data":{"values":[{"x":0,"y":20,"y2":45.44}]},"mark":{"type":"rule","color":"#333","strokeWidth":1},"encoding":{"y2":{"field":"y2"}}},
  {"data":{"name":"p5"},"mark":{"type":"line","interpolate":"catmull-rom","strokeWidth":1.1},"encoding":{"detail":{"field":"s"},"color":{"field":"c","type":"nominal","scale":{"domain":["t","b"],"range":["#1a1a1a","#e5007e"]},"legend":null},"order":{"value":null}}},
  {"data":{"name":"p5d"},"mark":{"type":"text","align":"left","baseline":"middle"},"encoding":{"text":{"field":"t"}}},
  {"data":{"name":"p5k"},"transform":[{"filter":"datum.f !== 'i'"}],"mark":{"type":"text","align":"center","baseline":"middle"},"encoding":{"text":{"field":"t"}}},
  {"data":{"name":"p5k"},"transform":[{"filter":"datum.f === 'i'"}],"mark":{"type":"text","align":"center","baseline":"middle","font":"Liberation Serif","fontStyle":"italic","fontSize":17},"encoding":{"text":{"field":"t"}}}
 ]},
{"width":391,"height":367,
 "encoding":{
  "x":{"field":"x","type":"quantitative","scale":{"domain":[-6.39,1.213],"nice":false,"zero":false},"axis":{"title":"σᵣᵣ,ₑₓₜ[MPa]","titleX":208,"values":[-6,-5.5,-5,-4.5,-4,-3.5,-3,-2.5,-2,-1.5,-1,-0.5,0,0.5,1],"labelExpr":"datum.value % 1 === 0 ? datum.label : ''"}},
  "y":{"field":"y","type":"quantitative","scale":{"domain":[20,54.3],"nice":false,"zero":false},"axis":{"title":null,"offset":-328.6,"domain":false,"values":[20,25,30,35,40,45,50],"labelExpr":"datum.value % 10 === 0 && datum.value > 20 ? datum.label : ''"}}},
 "layer":[
  {"data":{"values":[{"x":0,"y":20,"y2":52.9}]},"mark":{"type":"rule","color":"#333","strokeWidth":1},"encoding":{"y2":{"field":"y2"}}},
  {"data":{"name":"p6"},"mark":{"type":"line","interpolate":"catmull-rom","strokeWidth":1.1},"encoding":{"detail":{"field":"s"},"color":{"field":"c","type":"nominal","scale":{"domain":["t","b"],"range":["#1a1a1a","#e5007e"]},"legend":null},"order":{"value":null}}},
  {"data":{"name":"p6d"},"mark":{"type":"text","align":"left","baseline":"middle"},"encoding":{"text":{"field":"t"}}},
  {"data":{"name":"p6k"},"transform":[{"filter":"datum.f !== 'i'"}],"mark":{"type":"text","align":"center","baseline":"middle"},"encoding":{"text":{"field":"t"}}},
  {"data":{"name":"p6k"},"transform":[{"filter":"datum.f === 'i'"}],"mark":{"type":"text","align":"center","baseline":"middle","font":"Liberation Serif","fontStyle":"italic","fontSize":17},"encoding":{"text":{"field":"t"}}}
 ]}
]
}
